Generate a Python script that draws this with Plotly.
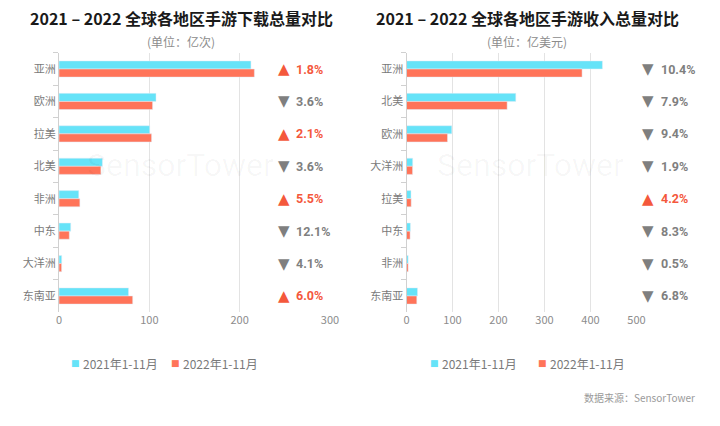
import plotly.graph_objects as go

# ---- data ----
regions_dl = ["亚洲", "欧洲", "拉美", "北美", "非洲", "中东", "大洋洲", "东南亚"]
dl_2021 = [212.5, 107.4, 100.4, 48.1, 21.9, 13.0, 3.0, 77.0]
dl_2022 = [216.3, 103.6, 102.5, 46.4, 23.1, 11.4, 2.9, 81.6]
dl_change = ["1.8%", "3.6%", "2.1%", "3.6%", "5.5%", "12.1%", "4.1%", "6.0%"]
dl_up = [True, False, True, False, True, False, False, True]

regions_rev = ["亚洲", "北美", "欧洲", "大洋洲", "拉美", "中东", "非洲", "东南亚"]
rev_2021 = [426.0, 237.6, 98.5, 13.5, 9.8, 8.5, 3.6, 24.0]
rev_2022 = [381.7, 218.8, 89.2, 13.2, 10.2, 7.8, 3.6, 22.4]
rev_change = ["10.4%", "7.9%", "9.4%", "1.9%", "4.2%", "8.3%", "0.5%", "6.8%"]
rev_up = [False, False, False, False, True, False, False, False]

series_names = ["2021年1-11月", "2022年1-11月"]
titles = ["2021 – 2022 全球各地区手游下载总量对比", "2021 – 2022 全球各地区手游收入总量对比"]
units = ["(单位：亿次)", "(单位：亿美元)"]
left_ticks = [0, 100, 200, 300]
right_ticks = [0, 100, 200, 300, 400, 500]

# ---- style ----
C1 = "#66E3F8"
C2 = "#FF7459"
UP = "#F4583C"
DOWN = "#7F7F7F"
FONT = "Noto Sans CJK SC, Roboto, Arial, sans-serif"
W, H = 720, 426

def px(x):
    return x / W

def py(y):
    return 1 - y / H

fig = go.Figure()
fig.add_trace(go.Bar(y=regions_dl, x=dl_2021, orientation="h", marker_color=C1,
                     name=series_names[0], xaxis="x", yaxis="y", showlegend=False))
fig.add_trace(go.Bar(y=regions_dl, x=dl_2022, orientation="h", marker_color=C2,
                     name=series_names[1], xaxis="x", yaxis="y", showlegend=False))
fig.add_trace(go.Bar(y=regions_rev, x=rev_2021, orientation="h", marker_color=C1,
                     name=series_names[0], xaxis="x2", yaxis="y2", showlegend=False))
fig.add_trace(go.Bar(y=regions_rev, x=rev_2022, orientation="h", marker_color=C2,
                     name=series_names[1], xaxis="x2", yaxis="y2", showlegend=False))

ydom = [py(312.2), py(52.8)]
xax = dict(showgrid=True, gridcolor="#E3E3E3", gridwidth=1, zeroline=False, automargin=False,
           showline=False, ticks="", tickfont=dict(size=11, color="#8C8C8C", family=FONT))
yax = dict(autorange="reversed", showline=True, linecolor="#D0D0D0", linewidth=1,
           ticks="outside", tickson="boundaries", ticklen=5, tickcolor="#D0D0D0",
           showgrid=False, automargin=False, tickfont=dict(size=11, color="#7A7A7A", family=FONT))

fig.update_layout(
    width=W, height=H, margin=dict(l=0, r=0, t=0, b=0, autoexpand=False),
    paper_bgcolor="white", plot_bgcolor="white",
    barmode="group", bargap=0.5, bargroupgap=0,
    font=dict(family=FONT), showlegend=False,
    xaxis=dict(domain=[px(59), px(330)], range=[0, 300], tickvals=left_ticks,
               anchor="y", **xax),
    yaxis=dict(domain=ydom, anchor="x", **yax),
    xaxis2=dict(domain=[px(406.5), px(636.5)], range=[0, 500], tickvals=right_ticks,
                anchor="y2", **xax),
    yaxis2=dict(domain=ydom, anchor="x2", **yax),
)

ann = []
# watermarks
for cx in [180, 530]:
    ann.append(dict(x=px(cx), y=py(165), xref="paper", yref="paper", text="SensorTower",
                    xanchor="center", yanchor="middle", showarrow=False,
                    font=dict(size=32, color="rgba(0,0,0,0.035)", family="Roboto")))

# titles
for cx, t, u in [(181, titles[0], units[0]), (527, titles[1], units[1])]:
    ann.append(dict(x=px(cx), y=py(18), xref="paper", yref="paper", text="<b>%s</b>" % t,
                    xanchor="center", yanchor="middle", showarrow=False,
                    font=dict(size=16, color="#1A1A1A", family=FONT)))
    ann.append(dict(x=px(cx), y=py(42), xref="paper", yref="paper", text=u,
                    xanchor="center", yanchor="middle", showarrow=False,
                    font=dict(size=12, color="#8C8C8C", family=FONT)))

# change indicators
for cats, chg, ups, yref, tx, lx in [(regions_dl, dl_change, dl_up, "y", 284, 294),
                                      (regions_rev, rev_change, rev_up, "y2", 648, 659)]:
    for c, v, u in zip(cats, chg, ups):
        col = UP if u else DOWN
        ann.append(dict(x=px(tx), y=c, xref="paper", yref=yref, text="▲" if u else "▼",
                        xanchor="center", yanchor="middle", showarrow=False,
                        font=dict(size=15, color=col, family="DejaVu Sans")))
        ann.append(dict(x=px(lx), y=c, xref="paper", yref=yref, text="<b>%s</b>" % v,
                        xanchor="left", yanchor="middle", showarrow=False,
                        font=dict(size=12.5, color=col, family="Roboto, Arial, sans-serif")))

# legends
for sx in [(75, 175), (434, 542)]:
    for x0, nm, col in zip(sx, series_names, [C1, C2]):
        ann.append(dict(x=px(x0), y=py(363), xref="paper", yref="paper", text="■",
                        xanchor="center", yanchor="middle", showarrow=False,
                        font=dict(size=9, color=col, family="DejaVu Sans")))
        ann.append(dict(x=px(x0 + 6), y=py(363), xref="paper", yref="paper", text=nm,
                        xanchor="left", yanchor="middle", showarrow=False,
                        font=dict(size=12, color="#7A7A7A", family=FONT)))

# source
ann.append(dict(x=px(697), y=py(397), xref="paper", yref="paper", text="数据来源：SensorTower",
                xanchor="right", yanchor="middle", showarrow=False,
                font=dict(size=10, color="#9A9A9A", family=FONT)))

fig.update_layout(annotations=ann)
fig.write_html("out.html", config={"displayModeBar": False},
               post_script="document.body.style.margin='0';")
